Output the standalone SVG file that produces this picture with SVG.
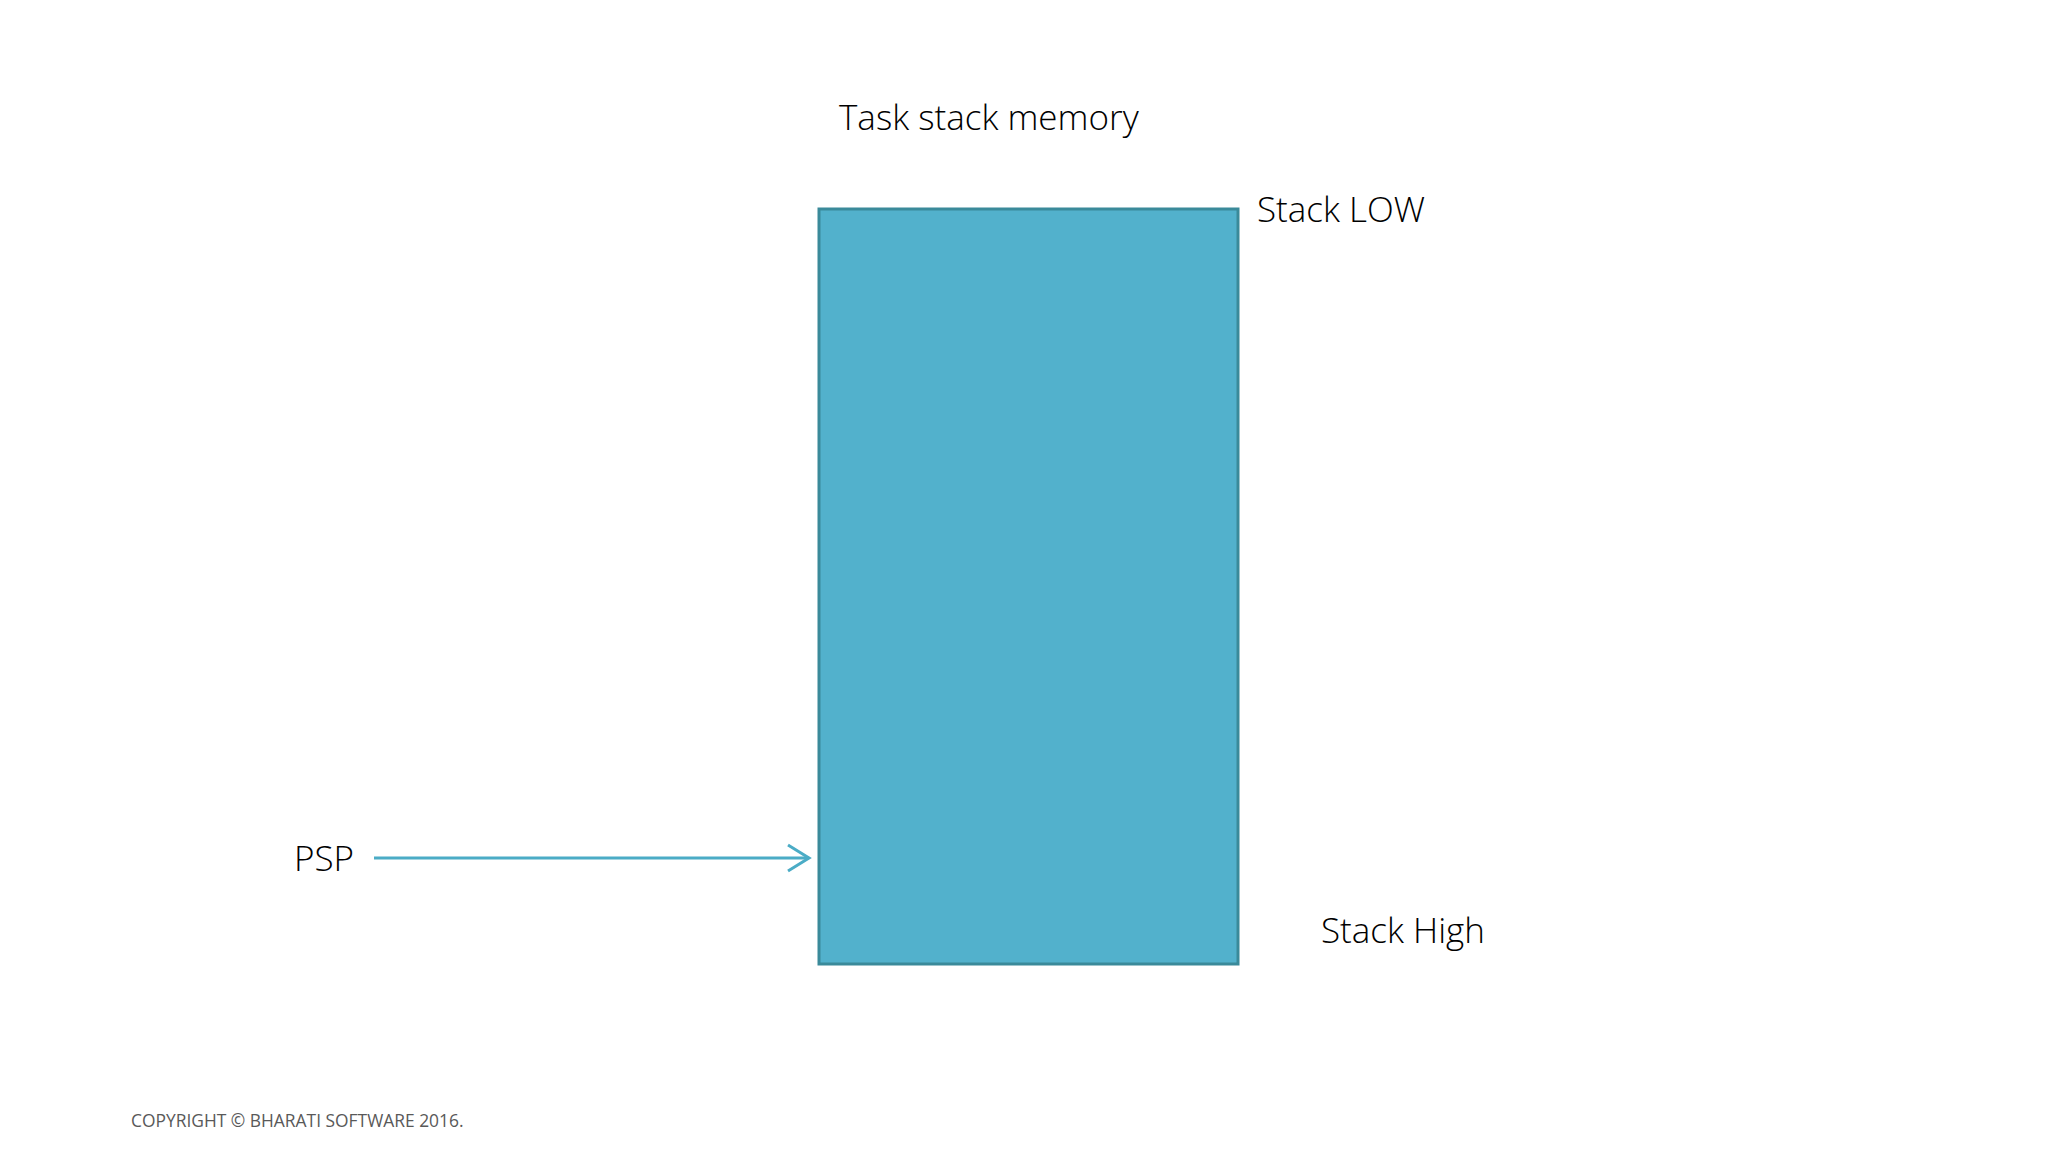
<svg xmlns="http://www.w3.org/2000/svg" width="2048" height="1152" viewBox="0 0 2048 1152">
<style>
.t{font-family:"Open Sans","Liberation Sans",sans-serif;font-weight:300;fill:#000;font-size:35px}
.c{font-family:"Open Sans","Liberation Sans",sans-serif;font-size:17.4px;fill:#595959}
</style>
<defs>
<marker id="ah" viewBox="0 0 28 30" refX="24" refY="15" markerWidth="28" markerHeight="30" markerUnits="userSpaceOnUse" orient="auto">
<path d="M3,2 L24,15 L3,28" fill="none" stroke="#4BACC6" stroke-width="3"/>
</marker>
</defs>
<rect width="2048" height="1152" fill="#fff"/>
<text class="t" x="839" y="130">Task stack memory</text>
<g id="stack">
<rect x="819" y="209" width="419" height="755" fill="#52B1CC" stroke="#3A8A9A" stroke-width="3"/>
</g>
<g id="labels">
<text class="t" x="1257" y="222">Stack LOW</text>
<text class="t" x="1321" y="943">Stack High</text>
<text class="t" x="294" y="871">PSP</text>
</g>
<g id="connectors">
<line x1="374" y1="858" x2="809" y2="858" stroke="#4BACC6" stroke-width="3" marker-end="url(#ah)"/>
</g>
<text class="c" x="131" y="1127">COPYRIGHT © BHARATI SOFTWARE 2016.</text>
</svg>
